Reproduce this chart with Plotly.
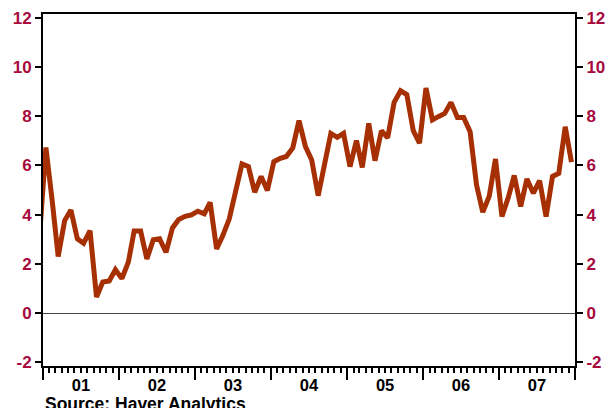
import plotly.graph_objects as go
import pandas as pd

# Monthly observations (plotted mid-month), Dec 2000 .. Dec 2007
dates = pd.date_range("2000-12-01", "2007-12-01", freq="MS") + pd.Timedelta(days=14)

values = [
    3.1,
    # 2001
    6.73, 4.5, 2.30, 3.76, 4.19, 3.02, 2.84, 3.35, 0.65, 1.26, 1.30, 1.76,
    # 2002
    1.40, 2.07, 3.33, 3.33, 2.20, 2.98, 3.02, 2.47, 3.46, 3.80, 3.93, 3.99,
    # 2003
    4.14, 4.03, 4.50, 2.61, 3.15, 3.83, 4.91, 6.06, 5.95, 4.91, 5.55, 4.98,
    # 2004
    6.15, 6.29, 6.36, 6.71, 7.82, 6.76, 6.22, 4.77, 6.06, 7.30, 7.14, 7.30,
    # 2005
    5.95, 7.01, 5.92, 7.71, 6.19, 7.41, 7.12, 8.56, 9.03, 8.88, 7.41, 6.90,
    # 2006
    9.14, 7.85, 7.98, 8.11, 8.56, 7.95, 7.95, 7.37, 5.20, 4.10, 4.75, 6.26,
    # 2007
    3.92, 4.71, 5.59, 4.33, 5.45, 4.87, 5.38, 3.92, 5.55, 5.68, 7.57, 6.13,
]

y_ticks = [-2, 0, 2, 4, 6, 8, 10, 12]
y_ticktext = ["-2", "0", "2", "4", "6", "8", "10", "12"]
y_range = [-2.15, 12.15]
x_range = ["2001-01-01", "2008-01-01"]
source_text = "Source: Haver Analytics"

LINE = "#A62F03"
TICKC = "#A6093D"
FONT = "Liberation Sans, Arial, sans-serif"

fig = go.Figure()
fig.add_trace(go.Scatter(x=dates, y=values, mode="lines",
                         line=dict(color=LINE, width=5), showlegend=False,
                         hoverinfo="skip"))
fig.add_trace(go.Scatter(x=dates, y=values, mode="lines", yaxis="y2",
                         line=dict(color="rgba(0,0,0,0)", width=0), showlegend=False,
                         hoverinfo="skip"))

yax = dict(range=y_range, tickvals=y_ticks, ticktext=y_ticktext,
           ticks="outside", ticklen=6,
           tickwidth=2, tickcolor="black", showline=True, linecolor="black",
           linewidth=2, showgrid=False, automargin=False,
           tickfont=dict(family=FONT, size=17, color=TICKC, weight="bold"))

fig.update_layout(
    width=607, height=408,
    margin=dict(l=43, r=32, t=14, b=42, autoexpand=False),
    paper_bgcolor="white", plot_bgcolor="white",
    xaxis=dict(range=x_range, type="date", dtick="M12", tick0="2001-01-01",
               ticklabelmode="period", tickformat="%y",
               ticks="outside", ticklen=12, tickwidth=2, tickcolor="black",
               showline=True, linecolor="black", linewidth=2, mirror=True,
               showgrid=False, zeroline=False, automargin=False,
               ticklabelstandoff=-9,
               minor=dict(dtick="M1", ticks="outside", ticklen=5, tickwidth=1.5,
                          tickcolor="black", showgrid=False),
               tickfont=dict(family=FONT, size=16.5, color="black", weight="bold")),
    yaxis=dict(**yax, zeroline=True, zerolinecolor="#444444", zerolinewidth=1),
    yaxis2=dict(**yax, overlaying="y", side="right", zeroline=False),
    annotations=[dict(text=source_text, xref="paper", yref="paper",
                      x=0.0, y=-0.075, xanchor="left", yanchor="top",
                      showarrow=False,
                      font=dict(family=FONT, size=17.5, color="black", weight="bold"))],
)

fig.write_html("out.html", config={"displayModeBar": False},
               post_script="document.body.style.margin='0';document.body.style.overflow='hidden';")
